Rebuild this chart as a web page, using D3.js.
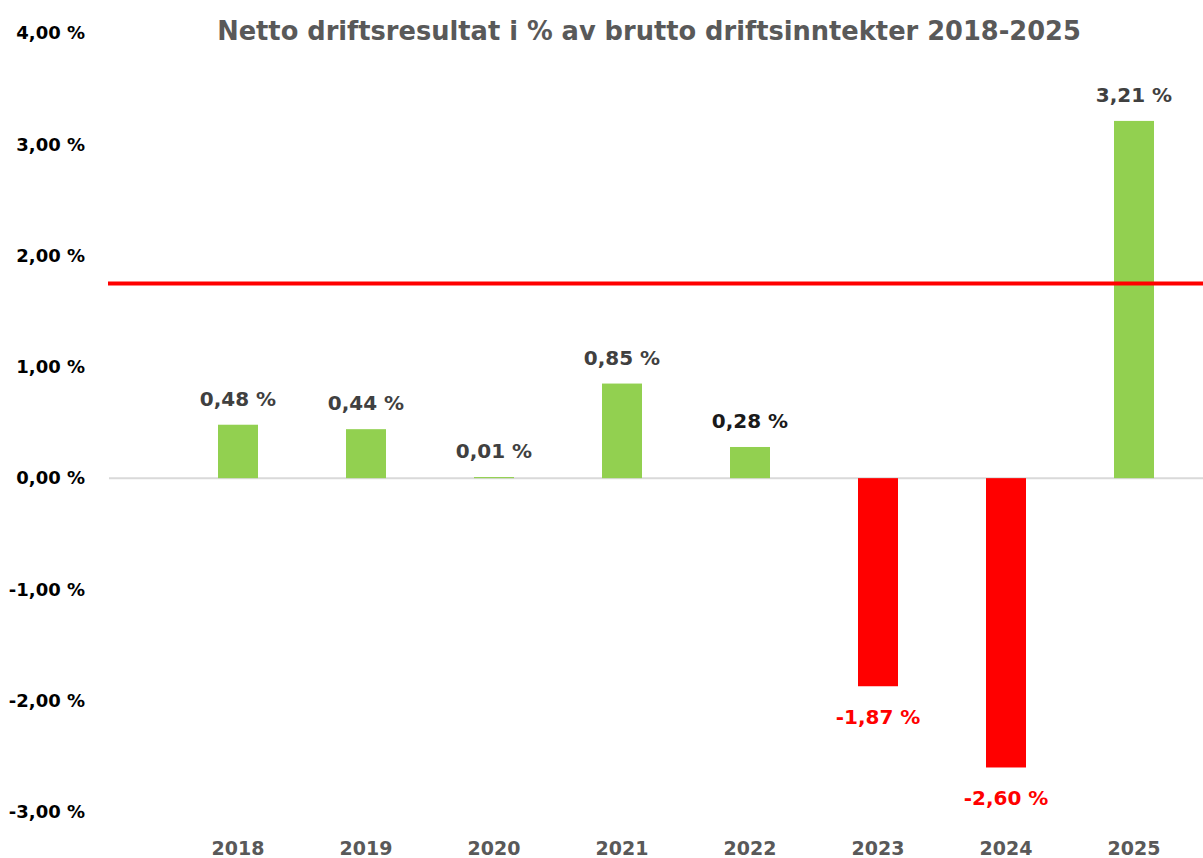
<!DOCTYPE html>
<html>
<head>
<meta charset="utf-8">
<script src="https://cdn.jsdelivr.net/npm/d3@7"></script>
<style>
  html, body { margin: 0; padding: 0; background: #fff; }
  svg text { font-family: "DejaVu Sans", sans-serif; font-weight: bold; }
</style>
</head>
<body>
<div id="chart"></div>
<script>
// ─── DONNÉES ──────────────────────────────────────────────────────────────────
const years  = ["2018", "2019", "2020", "2021", "2022", "2023", "2024", "2025"];
const values = [0.48, 0.44, 0.01, 0.85, 0.28, -1.87, -2.60, 3.21];
const yTicks = [4, 3, 2, 1, 0, -1, -2, -3];
const targetLine = 1.75;
const title = "Netto driftsresultat i % av brutto driftsinntekter 2018-2025";

const fmt = v => v.toFixed(2).replace(".", ",") + " %";

// ─── DIMENSIONS ───────────────────────────────────────────────────────────────
const width = 1203, height = 858;

const svg = d3.select("#chart")
    .append("svg")
    .attr("width", width)
    .attr("height", height);

const x = d3.scaleBand()
    .domain(years)
    .range([174, 1198])
    .paddingInner(0.6875)
    .paddingOuter(0.34375);

const y = d3.scaleLinear()
    .domain([-3, 4])
    .range([812, 33]);

// Titre
svg.append("text")
    .attr("x", 649).attr("y", 40)
    .attr("text-anchor", "middle")
    .style("font-size", "25.7px")
    .style("fill", "#595959")
    .text(title);

// Axe Y (labels seulement)
svg.append("g")
    .attr("transform", "translate(85,0)")
    .call(d3.axisLeft(y).tickValues(yTicks).tickSize(0).tickPadding(0).tickFormat(fmt))
    .call(g => g.select(".domain").remove())
    .call(g => g.selectAll("text")
        .style("font-size", "18px")
        .style("fill", "#000")
        .style("font-family", "'DejaVu Sans', sans-serif"));

// Ligne zéro
svg.append("line")
    .attr("x1", 109).attr("x2", width)
    .attr("y1", y(0)).attr("y2", y(0))
    .attr("stroke", "#d9d9d9").attr("stroke-width", 2);

// Axe X (labels seulement)
svg.append("g")
    .attr("transform", "translate(0,848)")
    .call(d3.axisBottom(x).tickSize(0).tickPadding(0))
    .call(g => g.select(".domain").remove())
    .call(g => g.selectAll("text")
        .attr("dy", "0.35em")
        .style("font-size", "19px")
        .style("fill", "#595959")
        .style("font-family", "'DejaVu Sans', sans-serif"));

const rows = years.map((yr, i) => ({ year: yr, value: values[i] }));

// Barres
svg.selectAll(".bar")
    .data(rows)
    .enter()
    .append("rect")
    .attr("class", "bar")
    .attr("x", d => x(d.year))
    .attr("width", x.bandwidth())
    .attr("y", d => y(Math.max(0, d.value)))
    .attr("height", d => Math.abs(y(d.value) - y(0)))
    .attr("fill", d => d.value < 0 ? "#ff0000" : "#92d050");

// Ligne de référence
svg.append("line")
    .attr("x1", 108).attr("x2", width)
    .attr("y1", y(targetLine)).attr("y2", y(targetLine))
    .attr("stroke", "#ff0000").attr("stroke-width", 4);

// Étiquettes de valeurs
svg.selectAll(".lbl")
    .data(rows)
    .enter()
    .append("text")
    .attr("class", "lbl")
    .attr("x", d => x(d.year) + x.bandwidth() / 2)
    .attr("y", d => d.value < 0 ? y(d.value) + 31 : y(d.value) - 26)
    .attr("dy", "0.35em")
    .attr("text-anchor", "middle")
    .style("font-size", "20px")
    .style("fill", d => d.value < 0 ? "#ff0000" : (d.year === "2022" ? "#1a1a1a" : "#404040"))
    .text(d => fmt(d.value));
</script>
</body>
</html>
